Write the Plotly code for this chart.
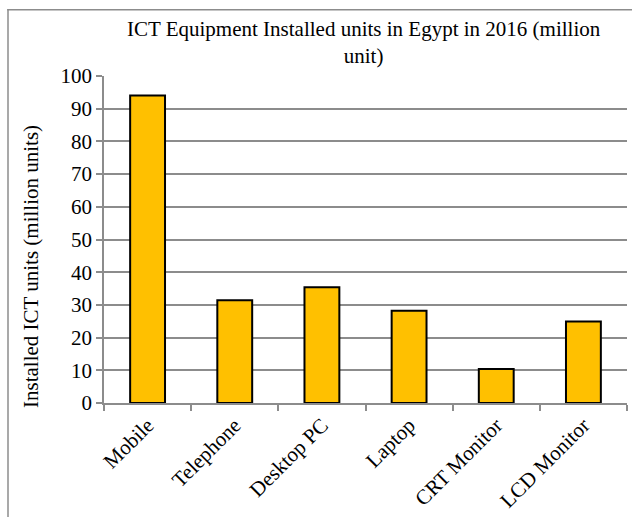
import plotly.graph_objects as go

categories = ["Mobile", "Telephone", "Desktop PC", "Laptop", "CRT Monitor", "LCD Monitor"]
units_million = [94, 31.4, 35.4, 28.2, 10.4, 24.9]
y_ticks = list(range(0, 101, 10))

serif = "Liberation Serif, Times New Roman, serif"
grid = "#8c8c8c"

# plot area in pixels: x 104..627, y 76..403
PL, PR, PT, PB = 104, 627, 76, 403
pw, ph = PR - PL, PB - PT


def px_x(x):
    return (x - PL) / pw


def px_y(y):
    return (PB - y) / ph


fig = go.Figure(
    go.Bar(
        x=categories,
        y=units_million,
        marker=dict(color="#FFC000", line=dict(color="black", width=2)),
        width=0.4,
    )
)

fig.update_layout(
    width=632,
    height=517,
    margin=dict(l=PL, r=632 - PR, t=PT, b=517 - PB),
    paper_bgcolor="white",
    plot_bgcolor="white",
    showlegend=False,
    font=dict(family=serif, color="black"),
    annotations=[
        dict(
            text="ICT Equipment Installed units in Egypt in 2016 (million<br>unit)",
            xref="paper", yref="paper",
            x=px_x(364), y=px_y(42),
            xanchor="center", yanchor="middle",
            showarrow=False,
            font=dict(family=serif, size=21, color="black"),
        ),
        dict(
            text="Installed ICT units (million units)",
            xref="paper", yref="paper",
            x=px_x(31), y=px_y(267),
            xanchor="center", yanchor="middle",
            textangle=-90,
            showarrow=False,
            font=dict(family=serif, size=21, color="black"),
        ),
    ],
    shapes=[
        # outer chart frame: left edge and top edge as thin filled strips
        dict(type="rect", xref="paper", yref="paper",
             x0=px_x(7.25), x1=px_x(8.75), y0=px_y(517), y1=px_y(9),
             line=dict(width=0), fillcolor=grid, layer="above"),
        dict(type="rect", xref="paper", yref="paper",
             x0=px_x(7.25), x1=px_x(632), y0=px_y(10.5), y1=px_y(9),
             line=dict(width=0), fillcolor=grid, layer="above"),
    ],
)

fig.update_yaxes(
    range=[0, 100],
    tickvals=y_ticks,
    showgrid=True,
    gridcolor=grid,
    gridwidth=1.5,
    showline=True,
    linecolor=grid,
    linewidth=1.5,
    ticks="outside",
    ticklen=6,
    tickcolor=grid,
    tickwidth=1.5,
    tickfont=dict(family=serif, size=21, color="black"),
    zeroline=False,
)

fig.update_xaxes(
    showline=True,
    linecolor=grid,
    linewidth=1.5,
    ticks="outside",
    tickson="boundaries",
    ticklen=6,
    tickcolor=grid,
    tickwidth=1.5,
    tickangle=-45,
    tickfont=dict(family=serif, size=21, color="black"),
    showgrid=False,
)

fig.write_html("out.html", config={"displayModeBar": False})
